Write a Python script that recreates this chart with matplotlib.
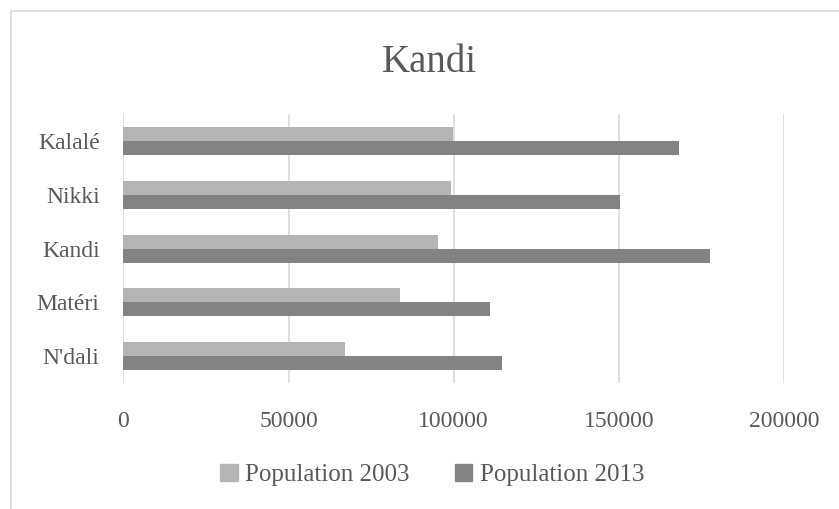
import matplotlib
matplotlib.use("Agg")
from matplotlib import pyplot as plt
from matplotlib.lines import Line2D
from matplotlib.patches import Patch
import numpy as np

communes = ["N'dali", "Matéri", "Kandi", "Nikki", "Kalalé"]
pop_2003 = [67200, 83600, 95100, 99100, 99900]
pop_2013 = [114500, 110900, 177500, 150400, 168300]
x_ticks = [0, 50000, 100000, 150000, 200000]

txt = '#595959'
c03 = '#b4b4b4'
c13 = '#838383'
plt.rcParams['font.family'] = ['Liberation Serif', 'DejaVu Serif']

fig = plt.figure(figsize=(8.39, 5.09), dpi=100)
ax = fig.add_axes([0.147, 0.2475, 0.7875, 0.5285])

y = np.arange(len(communes))
h = 0.26
ax.barh(y + h / 2, pop_2003, height=h, color=c03, zorder=3)
ax.barh(y - h / 2, pop_2013, height=h, color=c13, zorder=3)

ax.set_xlim(0, 200000)
ax.set_ylim(-0.5, len(communes) - 0.5)
ax.set_xticks(x_ticks)
ax.set_xticklabels([str(v) for v in x_ticks])
ax.set_yticks(y)
ax.set_yticklabels(communes)
ax.tick_params(length=0, labelsize=17, colors=txt)
ax.tick_params(axis='x', pad=20)
ax.tick_params(axis='y', pad=17)
ax.xaxis.grid(True, color='#d9d9d9', linewidth=1.2, zorder=0)
for s in ax.spines.values():
    s.set_visible(False)

fig.text(0.512, 0.878, "Kandi", ha='center', va='center', fontsize=28, color=txt)

handles = [Patch(color=c03, label='Population 2003'),
           Patch(color=c13, label='Population 2013')]
fig.legend(handles=handles, loc='center', bbox_to_anchor=(0.515, 0.067), ncol=2,
           frameon=False, fontsize=18, labelcolor=txt, handlelength=0.7,
           handleheight=0.7, handletextpad=0.3, columnspacing=1.8)

# chart-area border (top and left edges visible)
fig.add_artist(Line2D([10.5 / 839, 1], [1 - 10.5 / 509, 1 - 10.5 / 509],
                      transform=fig.transFigure, color='#d9d9d9', lw=1.2))
fig.add_artist(Line2D([10.5 / 839, 10.5 / 839], [0, 1 - 10.5 / 509],
                      transform=fig.transFigure, color='#d9d9d9', lw=1.2))

fig.savefig('out.png', dpi=100)
